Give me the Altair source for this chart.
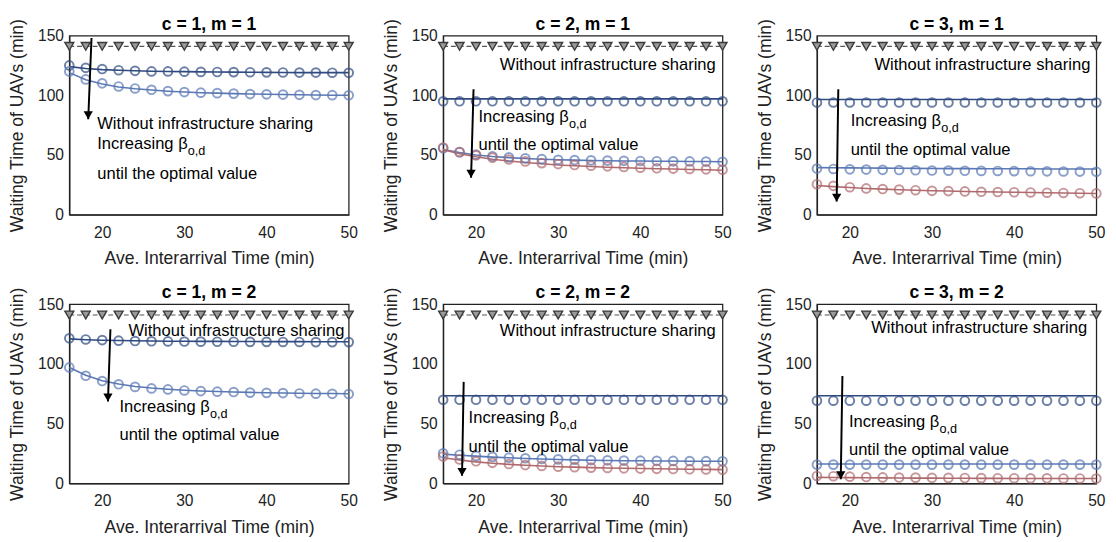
import altair as alt
import pandas as pd

FONT = "Liberation Sans"

# ---------------- data ----------------
X = [16, 18, 20, 22, 24, 26, 28, 30, 32, 34, 36, 38, 40, 42, 44, 46, 48, 50]
NO_SHARE = [141, 141, 141, 141, 141, 141, 141, 141, 141, 141, 141, 141, 141, 141, 141, 141, 141, 141]

# c = 1, m = 1
p11_navy_pts = [125, 123, 122, 121, 120.5, 120, 120, 119.8, 119.6, 119.5, 119.4, 119.3, 119.2, 119.1, 119, 119, 118.9, 118.8]
p11_navy_line = [124, 122.5, 121.5, 121, 120.5, 120.2, 120, 119.8, 119.6, 119.5, 119.4, 119.3, 119.2, 119.1, 119, 119, 119, 119]
p11_blue_pts = [120, 113.3, 110, 107.4, 105.7, 104.6, 103.5, 102.7, 102.2, 101.8, 101.4, 101, 100.8, 100.6, 100.4, 100.2, 100.1, 100]
p11_blue_line = [119, 113, 109.5, 107, 105.5, 104.4, 103.4, 102.7, 102.2, 101.8, 101.4, 101.1, 100.8, 100.6, 100.4, 100.2, 100.1, 100]

# c = 2, m = 1
p21_navy_pts = [95, 95, 95, 95, 95, 95, 95, 95, 95, 95, 95, 95, 95, 95, 95, 95, 95, 95]
p21_navy_line = [97, 97, 97, 97, 97, 97, 97, 97, 97, 97, 97, 97, 97, 97, 97, 97, 97, 97]
p21_blue_pts = [55.7, 52.4, 50.3, 48.9, 48, 47.2, 46.6, 46, 45.8, 45.5, 45.3, 45.1, 45, 44.8, 44.7, 44.6, 44.5, 44.3]
p21_blue_line = [54.5, 52, 50, 48.7, 47.8, 47.1, 46.5, 46, 45.7, 45.4, 45.2, 45, 44.9, 44.8, 44.7, 44.6, 44.5, 44.4]
p21_red_pts = [56.3, 52.4, 49.7, 47.8, 46.2, 44.6, 43.2, 42.4, 41.6, 41, 40.5, 40, 39.4, 38.9, 38.6, 38.3, 38, 37.7]
p21_red_line = [54.5, 51, 48.5, 46.5, 45, 43.7, 42.6, 41.7, 41, 40.4, 39.8, 39.3, 38.9, 38.5, 38.2, 37.9, 37.6, 37.3]

# c = 3, m = 1
p31_navy_pts = [94, 94, 94, 94, 94, 94, 94, 94, 94, 94, 94, 94, 94, 94, 94, 94, 94, 94]
p31_navy_line = [96.5, 96.5, 96.5, 96.5, 96.5, 96.5, 96.5, 96.5, 96.5, 96.5, 96.5, 96.5, 96.5, 96.5, 96.5, 96.5, 96.5, 96.5]
p31_blue_pts = [38.6, 38.3, 38, 37.8, 37.6, 37.4, 37.2, 37, 36.9, 36.8, 36.7, 36.6, 36.5, 36.4, 36.3, 36.2, 36.1, 36]
p31_blue_line = [39.4, 39.3, 39.2, 39.1, 39, 38.9, 38.8, 38.7, 38.6, 38.6, 38.5, 38.5, 38.4, 38.4, 38.3, 38.3, 38.2, 38.2]
p31_red_pts = [25.5, 24.2, 23, 22, 21.5, 21, 20.5, 20, 19.8, 19.5, 19.2, 19, 18.8, 18.6, 18.4, 18.2, 18, 17.8]
p31_red_line = [24.5, 23.5, 22.7, 22, 21.4, 20.9, 20.5, 20.1, 19.8, 19.5, 19.2, 19, 18.8, 18.6, 18.4, 18.2, 18, 17.8]

# c = 1, m = 2
p12_navy_pts = [121.5, 120.5, 120, 119.5, 119.2, 119, 118.9, 118.8, 118.7, 118.6, 118.6, 118.5, 118.5, 118.4, 118.4, 118.3, 118.3, 118.3]
p12_navy_line = [121, 120.3, 119.9, 119.6, 119.4, 119.2, 119.1, 119, 118.9, 118.9, 118.8, 118.8, 118.7, 118.7, 118.7, 118.6, 118.6, 118.6]
p12_blue_pts = [97.1, 90.1, 85.7, 83, 80.8, 79.5, 78.7, 77.8, 77.3, 76.8, 76.5, 76, 75.8, 75.6, 75.3, 75.1, 75, 74.8]
p12_blue_line = [97, 90.5, 86, 83.2, 81.2, 79.8, 78.8, 78, 77.4, 76.9, 76.5, 76.2, 75.9, 75.7, 75.5, 75.3, 75.2, 75.1]

# c = 2, m = 2
p22_navy_pts = [70, 70, 70, 70, 70, 70, 70, 70, 70, 70, 70, 70, 70, 70, 70, 70, 70, 70]
p22_navy_line = [73.3, 73.3, 73.3, 73.3, 73.3, 73.3, 73.3, 73.3, 73.3, 73.3, 73.3, 73.3, 73.3, 73.3, 73.3, 73.3, 73.3, 73.3]
p22_blue_pts = [25.2, 24, 23, 22.2, 21.5, 21, 20.5, 20.1, 19.8, 19.5, 19.3, 19.1, 19, 18.9, 18.8, 18.7, 18.6, 18.5]
p22_blue_line = [24.5, 23.6, 22.8, 22, 21.4, 20.9, 20.4, 20, 19.7, 19.4, 19.2, 19, 18.9, 18.8, 18.7, 18.6, 18.5, 18.5]
p22_red_pts = [22.5, 20, 18.5, 17.2, 16.2, 15.3, 14.6, 14, 13.6, 13.2, 12.9, 12.6, 12.4, 12.2, 12, 11.8, 11.7, 11.5]
p22_red_line = [21.5, 19.5, 18, 16.8, 15.9, 15.1, 14.5, 14, 13.6, 13.2, 12.9, 12.6, 12.4, 12.2, 12, 11.8, 11.7, 11.5]

# c = 3, m = 2
p32_navy_pts = [69.2, 69.2, 69.2, 69.2, 69.2, 69.2, 69.2, 69.2, 69.2, 69.2, 69.2, 69.2, 69.2, 69.2, 69.2, 69.2, 69.2, 69.2]
p32_navy_line = [73.3, 73.3, 73.3, 73.3, 73.3, 73.3, 73.3, 73.3, 73.3, 73.3, 73.3, 73.3, 73.3, 73.3, 73.3, 73.3, 73.3, 73.3]
p32_blue_pts = [15.7, 15.7, 15.7, 15.7, 15.7, 15.7, 15.7, 15.7, 15.7, 15.7, 15.7, 15.7, 15.7, 15.7, 15.7, 15.7, 15.7, 15.7]
p32_blue_line = [16.2, 16.2, 16.2, 16.2, 16.2, 16.2, 16.2, 16.2, 16.2, 16.2, 16.2, 16.2, 16.2, 16.2, 16.2, 16.2, 16.2, 16.2]
p32_red_pts = [6.2, 6, 5.6, 5.3, 5, 4.9, 4.8, 4.7, 4.6, 4.5, 4.4, 4.3, 4.3, 4.2, 4.2, 4.1, 4.1, 4]
p32_red_line = [5, 4.9, 4.8, 4.7, 4.6, 4.5, 4.4, 4.4, 4.3, 4.3, 4.2, 4.2, 4.1, 4.1, 4.1, 4, 4, 4]

TITLES = ["c = 1, m = 1", "c = 2, m = 1", "c = 3, m = 1",
          "c = 1, m = 2", "c = 2, m = 2", "c = 3, m = 2"]

# annotation anchors (data coordinates): arrow start/end, text anchors
ARROW_X1 = [18.7, 19.7, 18.6, 21.0, 18.5, 19.1]
ARROW_Y1 = [148, 105, 105, 129, 85, 90]
ARROW_X2 = [18.3, 19.4, 18.4, 20.7, 18.3, 18.9]
ARROW_Y2 = [80, 31, 11, 68.6, 6.3, 3.5]
NOSHARE_TX = [19.4, 22.9, 23.0, 23.2, 22.9, 22.6]
NOSHARE_TY = [76, 125.5, 125.5, 127.5, 127.5, 130]
INC_TX = [19.4, 20.3, 20.1, 22.1, 19.1, 19.9]
INC_TY = [58.7, 81.5, 78.3, 64, 54.5, 51]
OPT_TY = [34, 58, 54.4, 40, 30.7, 28]

NAVY_PT, NAVY_LN = "#1c3160", "#2f4a80"
BLUE_PT, BLUE_LN = "#4866a4", "#5a78b4"
RED_PT, RED_LN = "#9c5056", "#b06a6e"
TRI_C = "#555555"

PANELS = [
    [("navy", p11_navy_pts, p11_navy_line), ("blue", p11_blue_pts, p11_blue_line)],
    [("navy", p21_navy_pts, p21_navy_line), ("blue", p21_blue_pts, p21_blue_line), ("red", p21_red_pts, p21_red_line)],
    [("navy", p31_navy_pts, p31_navy_line), ("blue", p31_blue_pts, p31_blue_line), ("red", p31_red_pts, p31_red_line)],
    [("navy", p12_navy_pts, p12_navy_line), ("blue", p12_blue_pts, p12_blue_line)],
    [("navy", p22_navy_pts, p22_navy_line), ("blue", p22_blue_pts, p22_blue_line), ("red", p22_red_pts, p22_red_line)],
    [("navy", p32_navy_pts, p32_navy_line), ("blue", p32_blue_pts, p32_blue_line), ("red", p32_red_pts, p32_red_line)],
]

W, H = 287, 184
xs = alt.Scale(domain=[16, 50], nice=False, zero=False)
ys = alt.Scale(domain=[0, 150], nice=False)
pt_col = alt.Scale(domain=["navy", "blue", "red"], range=[NAVY_PT, BLUE_PT, RED_PT])
ln_col = alt.Scale(domain=["navy", "blue", "red"], range=[NAVY_LN, BLUE_LN, RED_LN])


def make_panel(i):
    rows = []
    for name, pts, line in PANELS[i]:
        for xv, pv, lv in zip(X, pts, line):
            rows.append({"x": xv, "pt": pv, "ln": lv, "s": name})
    df = pd.DataFrame(rows)
    tri = pd.DataFrame({"x": X, "y": NO_SHARE})

    xax = alt.Axis(values=[20, 30, 40, 50], title="Ave. Interarrival Time (min)", grid=False,
                   ticks=False, labelPadding=10, titlePadding=10, titleFontSize=18,
                   labelFontSize=16, titleFont=FONT, labelFont=FONT, labelFlush=False)
    yax = alt.Axis(values=[0, 50, 100, 150], title="Waiting Time  of UAVs (min)", grid=False,
                   ticks=False, labelPadding=6, titlePadding=11, titleFontSize=18,
                   labelFontSize=16, titleFont=FONT, labelFont=FONT, labelFlush=False)

    base = alt.Chart(df)
    lines = base.mark_line(strokeWidth=1.6).encode(
        x=alt.X("x:Q", scale=xs, axis=xax),
        y=alt.Y("ln:Q", scale=ys, axis=yax),
        color=alt.Color("s:N", scale=ln_col, legend=None),
        detail="s:N",
    )
    pts = base.mark_point(shape="circle", filled=False, size=80, strokeWidth=2).encode(
        x="x:Q", y="pt:Q",
        color=alt.Color("s:N", scale=pt_col, legend=None),
    )
    tri_line = alt.Chart(tri).mark_line(color=TRI_C, strokeDash=[5, 3], strokeWidth=1.2).encode(
        x="x:Q", y="y:Q")
    tri_pts = alt.Chart(tri).mark_point(shape="triangle-down", filled=True, size=85,
                                        fill="#9a9a9a", stroke="#3a3a3a", strokeWidth=1.4,
                                        opacity=1).encode(x="x:Q", y="y:Q")

    arr = pd.DataFrame({"x": [ARROW_X1[i]], "y": [ARROW_Y1[i]], "x2": [ARROW_X2[i]], "y2": [ARROW_Y2[i]]})
    rule = alt.Chart(arr).mark_rule(color="black", strokeWidth=2).encode(
        x="x:Q", y="y:Q", x2="x2:Q", y2="y2:Q")
    head = alt.Chart(arr).mark_point(shape="triangle-down", filled=True, size=90, color="black",
                                     opacity=1, yOffset=-4).encode(x="x2:Q", y="y2:Q")

    txt = pd.DataFrame({
        "x": [NOSHARE_TX[i], INC_TX[i], INC_TX[i]],
        "y": [NOSHARE_TY[i], INC_TY[i], OPT_TY[i]],
        "t": ["Without infrastructure sharing", "Increasing \u03b2", "until the optimal value"],
    })
    texts = alt.Chart(txt).mark_text(align="left", baseline="middle", fontSize=17, font=FONT,
                                     color="black").encode(x="x:Q", y="y:Q", text="t:N")
    sub = pd.DataFrame({"x": [INC_TX[i]], "y": [INC_TY[i]], "t": ["o,d"]})
    subtxt = alt.Chart(sub).mark_text(align="left", baseline="middle", fontSize=13, font=FONT,
                                      color="black", dx=93, dy=7).encode(x="x:Q", y="y:Q", text="t:N")

    return alt.layer(tri_line, lines, pts, tri_pts, rule, head, texts, subtxt).properties(
        width=W, height=H,
        title=alt.TitleParams(TITLES[i], fontSize=18, fontWeight="bold", font=FONT, offset=-18,
                              color="black"),
    )


row1 = alt.hconcat(make_panel(0), make_panel(1), make_panel(2), spacing=24)
row2 = alt.hconcat(make_panel(3), make_panel(4), make_panel(5), spacing=24)
chart = alt.vconcat(row1, row2, spacing=16).properties(
    padding={"left": 0, "top": 0, "right": 2, "bottom": 2}
).configure_view(stroke="#222222", strokeWidth=1.3).configure_axis(
    labelFont=FONT, titleFont=FONT, labelFontSize=16, titleFontSize=18,
    labelColor="#222222", titleColor="#222222", domainColor="#222222", domainWidth=1.3,
    titleFontWeight="normal",
).configure_title(anchor="middle")

chart.save("out.html", embed_options={"renderer": "svg", "actions": False})
